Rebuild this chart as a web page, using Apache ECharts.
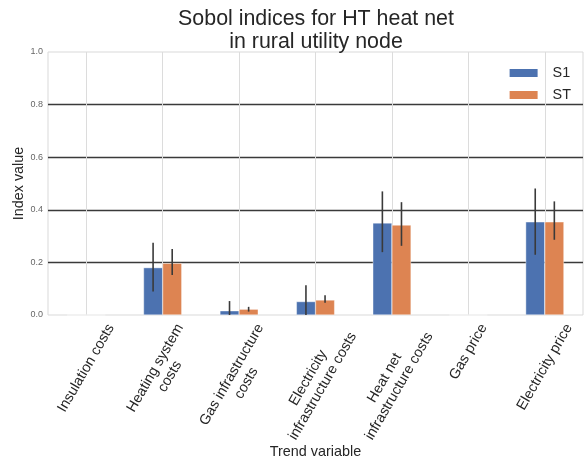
<!DOCTYPE html>
<html>
<head>
<meta charset="utf-8">
<script src="https://cdn.jsdelivr.net/npm/echarts@6/dist/echarts.min.js"></script>
<style>html,body{margin:0;padding:0;background:#fff}#c{width:585px;height:465px}</style>
</head>
<body>
<div id="c"></div>
<script>
// ---- data ----
const categories = ['Insulation costs', 'Heating system\ncosts', 'Gas infrastructure\ncosts',
  'Electricity\ninfrastructure costs', 'Heat net\ninfrastructure costs', 'Gas price', 'Electricity price'];
const s1Values = [0, 0.180, 0.016, 0.051, 0.350, 0, 0.354];
const s1Low    = [0, 0.089, -0.020, -0.010, 0.239, 0, 0.229];
const s1High   = [0, 0.275, 0.053, 0.113, 0.470, 0, 0.481];
const stValues = [0, 0.197, 0.022, 0.057, 0.342, 0, 0.354];
const stLow    = [0, 0.152, 0.013, 0.047, 0.263, 0, 0.286];
const stHigh   = [0, 0.251, 0.031, 0.075, 0.429, 0, 0.432];
const yTicks = [0, 0.2, 0.4, 0.6, 0.8, 1.0];

// ---- styling ----
const FONT = '"Liberation Sans", Arial, sans-serif';
const LABEL_SIZE = 14.4, LABEL_LH = 16.8, LABEL_PAD = 6;

function errSeries(lo, hi, sign) {
  return {
    type: 'custom', clip: true, z: 5, silent: true,
    data: lo.map((l, i) => [i, l, hi[i]]),
    encode: { x: 0, y: [1, 2] },
    renderItem: (params, api) => {
      const i = api.value(0), l = api.value(1), h = api.value(2);
      if (h === l) return null;
      const band = api.size([1, 0])[0];
      const off = sign * band * 0.125;
      const p1 = api.coord([i, l]), p2 = api.coord([i, h]);
      return { type: 'line', shape: { x1: p1[0] + off, y1: p1[1], x2: p2[0] + off, y2: p2[1] },
        style: { stroke: '#3a3a3a', lineWidth: 1.6 } };
    }
  };
}

const chart = echarts.init(document.getElementById('c'), null, { renderer: 'canvas' });
chart.setOption({
  animation: false,
  backgroundColor: '#fff',
  textStyle: { fontFamily: FONT },
  title: {
    text: 'Sobol indices for HT heat net\nin rural utility node',
    left: 311, textAlign: 'center', top: 2,
    textStyle: { fontSize: 21.4, fontWeight: 'normal', color: '#262626', lineHeight: 23.5, fontFamily: FONT }
  },
  legend: {
    data: ['S1', 'ST'], orient: 'vertical', right: 9, top: 61,
    itemWidth: 30, itemHeight: 10, itemGap: 8, icon: 'rect',
    textStyle: { fontSize: 14.4, color: '#262626', lineHeight: 14, padding: [0, 0, 0, 9], fontFamily: FONT }
  },
  grid: { left: 48, right: 2, top: 52, bottom: 150, show: true, borderColor: '#d9d9d9', borderWidth: 1, outerBoundsMode: 'none' },
  xAxis: {
    type: 'category', data: categories,
    name: 'Trend variable', nameLocation: 'middle', nameGap: 130, nameMoveOverlap: false,
    nameTextStyle: { fontSize: 14.4, color: '#262626', fontFamily: FONT },
    axisLine: { show: false }, axisTick: { show: false },
    axisLabel: { show: false, interval: 0 },
    splitLine: { show: true, alignWithLabel: true, lineStyle: { color: '#dcdcdc', width: 1 } }
  },
  yAxis: {
    type: 'value', min: yTicks[0], max: yTicks[yTicks.length - 1], interval: 0.2,
    name: 'Index value', nameLocation: 'middle', nameGap: 21.5, nameMoveOverlap: false,
    nameTextStyle: { fontSize: 14.4, color: '#262626', fontFamily: FONT },
    axisLine: { show: false }, axisTick: { show: false },
    axisLabel: { fontSize: 9, color: '#666', margin: 5, formatter: v => v.toFixed(1), fontFamily: FONT },
    splitLine: { show: true, lineStyle: { color: ['transparent', '#3a3a3a', '#3a3a3a', '#3a3a3a', '#3a3a3a', 'transparent'], width: 1.3 } }
  },
  series: [
    { name: 'S1', type: 'bar', data: s1Values, barWidth: '25%', barGap: '0%', z: 2,
      itemStyle: { color: '#4c72b0', borderColor: '#fff', borderWidth: 0.4 } },
    { name: 'ST', type: 'bar', data: stValues, barWidth: '25%', barGap: '0%', z: 2,
      itemStyle: { color: '#dd8452', borderColor: '#fff', borderWidth: 0.4 } },
    errSeries(s1Low, s1High, -1),
    errSeries(stLow, stHigh, 1)
  ]
});

// Category tick labels, rotated 60deg, rotated bounding box centred under each tick
const ctx = document.createElement('canvas').getContext('2d');
ctx.font = LABEL_SIZE + 'px ' + FONT;
const ang = Math.PI / 3;
const labelEls = categories.map((c, i) => {
  const lines = c.split('\n');
  const w = Math.max(...lines.map(l => ctx.measureText(l).width));
  const h = lines.length * LABEL_LH;
  const H = Math.sin(ang) * w + Math.cos(ang) * h;
  const p = chart.convertToPixel({ gridIndex: 0 }, [i, 0]);
  return {
    type: 'text', x: p[0], y: p[1] + LABEL_PAD + H / 2, rotation: ang, silent: true,
    style: { text: c, font: LABEL_SIZE + 'px ' + FONT, fill: '#262626', align: 'center', verticalAlign: 'middle', lineHeight: LABEL_LH }
  };
});
chart.setOption({ graphic: labelEls });
</script>
</body>
</html>
